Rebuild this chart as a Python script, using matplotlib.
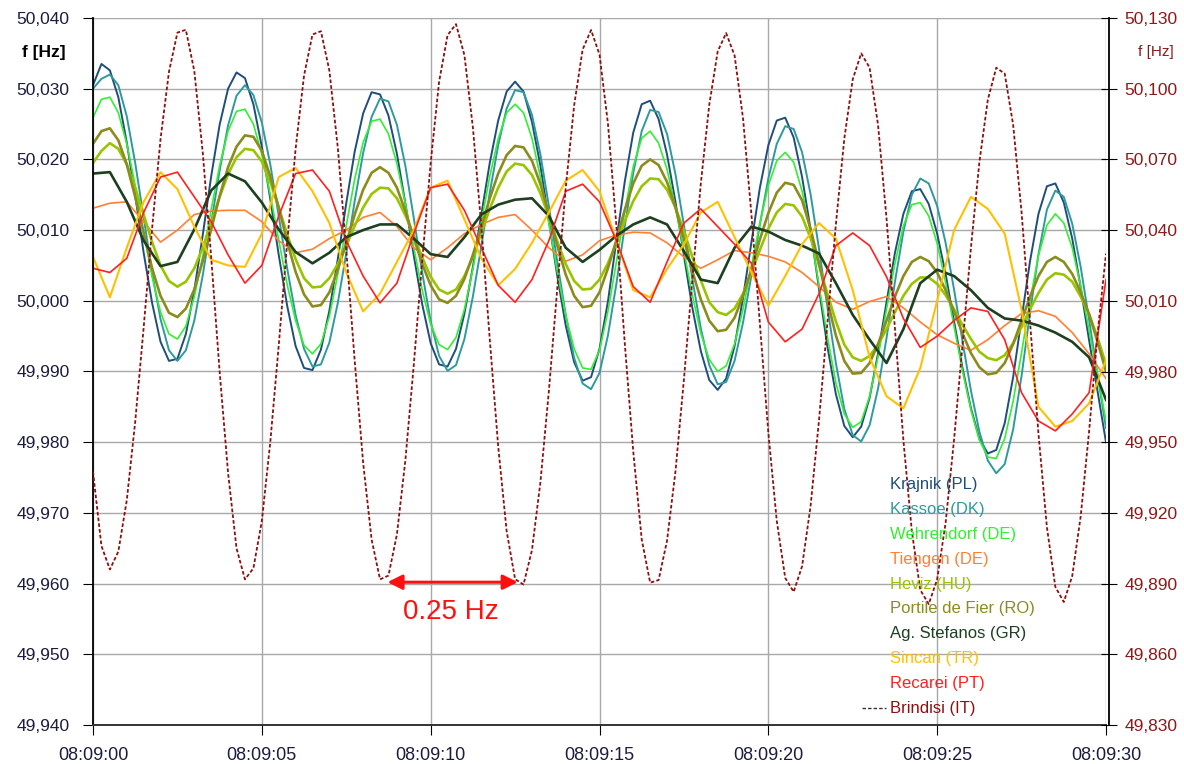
import numpy as np
import matplotlib
matplotlib.use('Agg')
import matplotlib.pyplot as plt
from matplotlib.lines import Line2D

plt.rcParams['font.family'] = ['Liberation Sans', 'DejaVu Sans']

# sample times in seconds after 08:09:00
t_half = np.linspace(0, 30, 61)      # every 0.5 s
t_quarter = np.linspace(0, 30, 121)  # every 0.25 s (large swings)

# frequencies in Hz, left axis; every 0.25 s
krajnik = [50.0305, 50.0335, 50.0326, 50.0288, 50.0224, 50.0149, 50.0068, 49.9997, 49.9942, 49.9915,
           49.9918, 49.9953, 50.0015, 50.0093, 50.0176, 50.0249, 50.0300, 50.0323, 50.0315, 50.0278,
           50.0218, 50.0144, 50.0065, 49.9993, 49.9936, 49.9905, 49.9902, 49.9931, 49.9986, 50.0059,
           50.0138, 50.0211, 50.0265, 50.0295, 50.0292, 50.0262, 50.0208, 50.0138, 50.0064, 49.9995,
           49.9940, 49.9910, 49.9907, 49.9932, 49.9982, 50.0048, 50.0122, 50.0195, 50.0255, 50.0296,
           50.0310, 50.0296, 50.0253, 50.0191, 50.0113, 50.0035, 49.9965, 49.9913, 49.9887, 49.9892,
           49.9932, 49.9999, 50.0085, 50.0169, 50.0238, 50.0278, 50.0283, 50.0257, 50.0207, 50.0140,
           50.0064, 49.9990, 49.9929, 49.9888, 49.9874, 49.9890, 49.9936, 50.0004, 50.0083, 50.0160,
           50.0220, 50.0255, 50.0259, 50.0231, 50.0175, 50.0101, 50.0017, 49.9935, 49.9868, 49.9823,
           49.9807, 49.9822, 49.9863, 49.9926, 49.9998, 50.0068, 50.0123, 50.0155, 50.0158, 50.0137,
           50.0095, 50.0038, 49.9971, 49.9905, 49.9848, 49.9805, 49.9784, 49.9789, 49.9827, 49.9892,
           49.9975, 50.0056, 50.0123, 50.0162, 50.0166, 50.0139, 50.0088, 50.0019, 49.9944, 49.9872,
           49.9800]
kassoe = [50.0300, 50.0314, 50.0320, 50.0305, 50.0261, 50.0195, 50.0118, 50.0040, 49.9974, 49.9930,
          49.9915, 49.9930, 49.9972, 50.0036, 50.0110, 50.0184, 50.0248, 50.0290, 50.0305, 50.0291,
          50.0252, 50.0193, 50.0120, 50.0046, 49.9980, 49.9932, 49.9907, 49.9910, 49.9941, 49.9997,
          50.0067, 50.0141, 50.0209, 50.0260, 50.0286, 50.0282, 50.0249, 50.0191, 50.0117, 50.0040,
          49.9971, 49.9922, 49.9901, 49.9909, 49.9946, 50.0006, 50.0077, 50.0153, 50.0220, 50.0272,
          50.0298, 50.0295, 50.0263, 50.0207, 50.0134, 50.0055, 49.9980, 49.9919, 49.9883, 49.9875,
          49.9898, 49.9951, 50.0024, 50.0106, 50.0181, 50.0240, 50.0270, 50.0267, 50.0236, 50.0179,
          50.0107, 50.0031, 49.9961, 49.9909, 49.9882, 49.9885, 49.9915, 49.9969, 50.0036, 50.0108,
          50.0173, 50.0222, 50.0247, 50.0243, 50.0210, 50.0151, 50.0074, 49.9991, 49.9912, 49.9847,
          49.9810, 49.9801, 49.9824, 49.9876, 49.9947, 50.0027, 50.0098, 50.0150, 50.0173, 50.0166,
          50.0134, 50.0082, 50.0016, 49.9943, 49.9873, 49.9815, 49.9774, 49.9756, 49.9769, 49.9818,
          49.9894, 49.9983, 50.0066, 50.0129, 50.0156, 50.0147, 50.0109, 50.0048, 49.9973, 49.9895,
          49.9820]
wehrendorf = [50.0259, 50.0285, 50.0288, 50.0266, 50.0222, 50.0163, 50.0097, 50.0034, 49.9984, 49.9953,
              49.9946, 49.9964, 50.0006, 50.0063, 50.0129, 50.0191, 50.0240, 50.0268, 50.0271, 50.0250,
              50.0207, 50.0150, 50.0086, 50.0023, 49.9972, 49.9937, 49.9925, 49.9939, 49.9978, 50.0038,
              50.0106, 50.0172, 50.0224, 50.0254, 50.0257, 50.0236, 50.0194, 50.0138, 50.0075, 50.0015,
              49.9967, 49.9938, 49.9931, 49.9948, 49.9988, 50.0045, 50.0111, 50.0176, 50.0229, 50.0266,
              50.0278, 50.0266, 50.0230, 50.0175, 50.0110, 50.0041, 49.9979, 49.9932, 49.9905, 49.9903,
              49.9930, 49.9985, 50.0055, 50.0127, 50.0190, 50.0230, 50.0240, 50.0223, 50.0186, 50.0132,
              50.0070, 50.0008, 49.9954, 49.9917, 49.9900, 49.9908, 49.9939, 49.9988, 50.0049, 50.0110,
              50.0163, 50.0198, 50.0210, 50.0196, 50.0155, 50.0096, 50.0022, 49.9949, 49.9884, 49.9840,
              49.9821, 49.9829, 49.9865, 49.9921, 49.9988, 50.0053, 50.0106, 50.0136, 50.0139, 50.0120,
              50.0081, 50.0026, 49.9964, 49.9901, 49.9846, 49.9803, 49.9779, 49.9777, 49.9805, 49.9858,
              49.9927, 50.0000, 50.0064, 50.0107, 50.0123, 50.0110, 50.0075, 50.0021, 49.9958, 49.9895,
              49.9830]
heviz = [50.0195, 50.0212, 50.0223, 50.0215, 50.0193, 50.0160, 50.0122, 50.0083, 50.0050, 50.0028,
         50.0020, 50.0027, 50.0046, 50.0075, 50.0111, 50.0147, 50.0179, 50.0203, 50.0215, 50.0213,
         50.0197, 50.0168, 50.0132, 50.0094, 50.0059, 50.0032, 50.0019, 50.0020, 50.0032, 50.0052,
         50.0078, 50.0106, 50.0132, 50.0151, 50.0160, 50.0159, 50.0145, 50.0121, 50.0092, 50.0061,
         50.0034, 50.0016, 50.0010, 50.0016, 50.0035, 50.0062, 50.0096, 50.0130, 50.0160, 50.0183,
         50.0194, 50.0192, 50.0178, 50.0152, 50.0119, 50.0084, 50.0052, 50.0028, 50.0016, 50.0017,
         50.0030, 50.0053, 50.0082, 50.0113, 50.0141, 50.0162, 50.0173, 50.0172, 50.0157, 50.0132,
         50.0099, 50.0062, 50.0029, 49.9998, 49.9984, 49.9980, 49.9989, 50.0010, 50.0040, 50.0072,
         50.0102, 50.0125, 50.0137, 50.0135, 50.0119, 50.0089, 50.0051, 50.0010, 49.9971, 49.9938,
         49.9920, 49.9915, 49.9922, 49.9938, 49.9960, 49.9984, 50.0007, 50.0024, 50.0033, 50.0033,
         50.0024, 50.0008, 49.9988, 49.9966, 49.9946, 49.9928, 49.9919, 49.9916, 49.9923, 49.9940,
         49.9963, 49.9988, 50.0011, 50.0030, 50.0039, 50.0037, 50.0027, 50.0006, 49.9981, 49.9948,
         49.9910]
portile = [50.0222, 50.0240, 50.0244, 50.0227, 50.0193, 50.0147, 50.0096, 50.0046, 50.0007, 49.9983,
           49.9977, 49.9989, 50.0016, 50.0056, 50.0101, 50.0148, 50.0189, 50.0218, 50.0234, 50.0232,
           50.0212, 50.0176, 50.0132, 50.0084, 50.0041, 50.0009, 49.9992, 49.9994, 50.0012, 50.0044,
           50.0082, 50.0122, 50.0157, 50.0181, 50.0189, 50.0181, 50.0160, 50.0127, 50.0089, 50.0052,
           50.0022, 50.0002, 49.9997, 50.0007, 50.0031, 50.0065, 50.0104, 50.0145, 50.0180, 50.0206,
           50.0219, 50.0217, 50.0198, 50.0165, 50.0123, 50.0078, 50.0037, 50.0007, 49.9991, 49.9993,
           50.0012, 50.0046, 50.0086, 50.0129, 50.0166, 50.0191, 50.0200, 50.0192, 50.0168, 50.0132,
           50.0087, 50.0042, 50.0002, 49.9972, 49.9957, 49.9959, 49.9976, 50.0007, 50.0045, 50.0087,
           50.0124, 50.0153, 50.0167, 50.0164, 50.0142, 50.0102, 50.0053, 50.0000, 49.9951, 49.9915,
           49.9897, 49.9898, 49.9912, 49.9939, 49.9972, 50.0006, 50.0035, 50.0055, 50.0062, 50.0056,
           50.0040, 50.0015, 49.9985, 49.9954, 49.9926, 49.9906, 49.9896, 49.9898, 49.9912, 49.9939,
           49.9972, 50.0006, 50.0035, 50.0055, 50.0062, 50.0055, 50.0038, 50.0012, 49.9981, 49.9942,
           49.9900]

# every 0.5 s
tiengen = [50.0131, 50.0138, 50.0140, 50.0112, 50.0083, 50.0100, 50.0122, 50.0127, 50.0128, 50.0128,
           50.0112, 50.0085, 50.0068, 50.0073, 50.0088, 50.0100, 50.0118, 50.0125, 50.0105, 50.0075,
           50.0058, 50.0075, 50.0095, 50.0108, 50.0118, 50.0122, 50.0100, 50.0075, 50.0056, 50.0065,
           50.0085, 50.0093, 50.0097, 50.0096, 50.0082, 50.0062, 50.0046, 50.0058, 50.0071, 50.0068,
           50.0063, 50.0055, 50.0040, 50.0020, 49.9998, 49.9988, 49.9999, 50.0006, 49.9990, 49.9970,
           49.9952, 49.9940, 49.9930, 49.9945, 49.9965, 49.9982, 49.9986, 49.9978, 49.9955, 49.9925,
           49.9890]
stefanos = [50.0180, 50.0182, 50.0140, 50.0085, 50.0049, 50.0055, 50.0101, 50.0156, 50.0180, 50.0169,
            50.0139, 50.0101, 50.0069, 50.0053, 50.0068, 50.0090, 50.0100, 50.0108, 50.0108, 50.0088,
            50.0066, 50.0062, 50.0090, 50.0122, 50.0136, 50.0143, 50.0145, 50.0120, 50.0075, 50.0055,
            50.0072, 50.0092, 50.0108, 50.0118, 50.0108, 50.0070, 50.0030, 50.0025, 50.0075, 50.0105,
            50.0098, 50.0086, 50.0078, 50.0067, 50.0025, 49.9980, 49.9945, 49.9912, 49.9960, 50.0025,
            50.0044, 50.0035, 50.0015, 49.9990, 49.9975, 49.9972, 49.9965, 49.9955, 49.9942, 49.9920,
            49.9860]
sincan = [50.0062, 50.0005, 50.0075, 50.0140, 50.0182, 50.0158, 50.0105, 50.0058, 50.0050, 50.0048,
          50.0095, 50.0175, 50.0188, 50.0155, 50.0110, 50.0040, 49.9985, 50.0010, 50.0055, 50.0100,
          50.0160, 50.0170, 50.0115, 50.0060, 50.0022, 50.0045, 50.0082, 50.0125, 50.0170, 50.0185,
          50.0155, 50.0085, 50.0015, 50.0005, 50.0045, 50.0080, 50.0125, 50.0140, 50.0090, 50.0040,
          49.9993, 50.0035, 50.0080, 50.0110, 50.0088, 50.0015, 49.9920, 49.9865, 49.9848, 49.9905,
          50.0000, 50.0100, 50.0147, 50.0130, 50.0095, 49.9987, 49.9850, 49.9822, 49.9830, 49.9855,
          49.9916]
recarei = [50.0046, 50.0040, 50.0060, 50.0125, 50.0175, 50.0182, 50.0147, 50.0112, 50.0065, 50.0025,
           50.0050, 50.0120, 50.0180, 50.0185, 50.0155, 50.0085, 50.0035, 49.9997, 50.0025, 50.0095,
           50.0160, 50.0165, 50.0128, 50.0075, 50.0022, 49.9998, 50.0030, 50.0085, 50.0155, 50.0165,
           50.0140, 50.0085, 50.0020, 49.9998, 50.0055, 50.0110, 50.0130, 50.0105, 50.0080, 50.0053,
           49.9970, 49.9942, 49.9960, 50.0010, 50.0078, 50.0096, 50.0078, 50.0034, 49.9975, 49.9934,
           49.9950, 49.9972, 49.9990, 49.9985, 49.9945, 49.9870, 49.9830, 49.9816, 49.9840, 49.9870,
           50.0030]

# Brindisi, right axis, every 0.25 s
brindisi = [49.9375, 49.9060, 49.8960, 49.9036, 49.9253, 49.9587, 49.9986, 50.0406, 50.0786, 50.1072,
            50.1238, 50.1250, 50.1075, 50.0730, 50.0285, 49.9800, 49.9370, 49.9050, 49.8918, 49.8965,
            49.9166, 49.9500, 49.9910, 50.0346, 50.0745, 50.1056, 50.1230, 50.1244, 50.1077, 50.0750,
            50.0316, 49.9846, 49.9413, 49.9088, 49.8918, 49.8934, 49.9108, 49.9422, 49.9828, 50.0270,
            50.0685, 50.1030, 50.1227, 50.1274, 50.1142, 50.0836, 50.0416, 49.9937, 49.9482, 49.9123,
            49.8919, 49.8896, 49.9042, 49.9330, 49.9716, 50.0154, 50.0580, 50.0930, 50.1166, 50.1249,
            50.1145, 50.0852, 50.0418, 49.9917, 49.9460, 49.9088, 49.8904, 49.8915, 49.9082, 49.9376,
            49.9766, 50.0191, 50.0597, 50.0931, 50.1158, 50.1236, 50.1141, 50.0875, 50.0465, 50.0002,
            49.9540, 49.9166, 49.8924, 49.8865, 49.8974, 49.9228, 49.9592, 50.0007, 50.0424, 50.0788,
            50.1040, 50.1150, 50.1089, 50.0845, 50.0450, 49.9981, 49.9508, 49.9122, 49.8873, 49.8813,
            49.8918, 49.9158, 49.9511, 49.9912, 50.0326, 50.0688, 50.0953, 50.1089, 50.1064, 50.0847,
            50.0475, 50.0010, 49.9536, 49.9139, 49.8886, 49.8822, 49.8932, 49.9185, 49.9547, 49.9960,
            50.0300]

names = ['Krajnik (PL)', 'Kassoe (DK)', 'Wehrendorf (DE)', 'Tiengen (DE)', 'Heviz (HU)',
         'Portile de Fier (RO)', 'Ag. Stefanos (GR)', 'Sincan (TR)', 'Recarei (PT)']
series = [krajnik, kassoe, wehrendorf, tiengen, heviz, portile, stefanos, sincan, recarei]
times = [t_quarter, t_quarter, t_quarter, t_half, t_quarter, t_quarter, t_half, t_half, t_half]
colors = ['#1f4e79', '#2e9a9e', '#33ee33', '#ff8033', '#99c400', '#8c8c1e', '#1c4020', '#ffc000', '#ff2020']
widths = [1.4, 1.4, 1.2, 1.2, 1.9, 1.9, 1.9, 1.5, 1.2]
brindisi_color = '#8b1010'

x_ticks = [0, 5, 10, 15, 20, 25, 30]
x_labels = ['08:09:00', '08:09:05', '08:09:10', '08:09:15', '08:09:20', '08:09:25', '08:09:30']
left_ticks = [49.940, 49.950, 49.960, 49.970, 49.980, 49.990, 50.000, 50.010, 50.020, 50.030, 50.040]
left_labels = ['49,940', '49,950', '49,960', '49,970', '49,980', '49,990',
               '50,000', '50,010', '50,020', '50,030', '50,040']
right_ticks = [49.830, 49.860, 49.890, 49.920, 49.950, 49.980, 50.010, 50.040, 50.070, 50.100, 50.130]
right_labels = ['49,830', '49,860', '49,890', '49,920', '49,950', '49,980',
                '50,010', '50,040', '50,070', '50,100', '50,130']

fig, ax = plt.subplots(figsize=(11.84, 7.64), dpi=100)
fig.subplots_adjust(left=93/1184, right=1106/1184, bottom=1-725/764, top=1-18/764)

for tt, vals, col, lw in zip(times, series, colors, widths):
    ax.plot(tt, vals, color=col, lw=lw)

ax.set_xlim(0, 30)
ax.set_ylim(49.940, 50.040)
ax.set_xticks(x_ticks)
ax.set_xticklabels(x_labels)
ax.set_yticks(left_ticks)
ax.set_yticklabels(left_labels)
ax.grid(True, color='#a8a8a8', lw=1.0)
ax.set_axisbelow(True)
ax.tick_params(axis='y', direction='out', length=7, labelsize=12.5, labelcolor='#1c1c40', pad=10)
ax.tick_params(axis='x', direction='out', length=7, labelsize=13, labelcolor='#1c1c40', pad=9)
for s in ['top', 'right']:
    ax.spines[s].set_visible(False)
ax.spines['left'].set_color('black')
ax.spines['left'].set_linewidth(1.3)
ax.spines['bottom'].set_color('#333333')
ax.spines['bottom'].set_linewidth(1.4)

# 0.25 Hz marker between two Brindisi minima
ax.annotate('', xy=(8.72, 49.9602), xytext=(12.58, 49.9602),
            arrowprops=dict(arrowstyle='<|-|>', color='#ff1010', lw=2.2, mutation_scale=22,
                            shrinkA=0, shrinkB=0))
ax.text(10.6, 49.9560, '0.25 Hz', color='#ff1010', fontsize=20, ha='center', va='center')

ax2 = ax.twinx()
ax2.plot(t_quarter, brindisi, color=brindisi_color, lw=1.3, ls=(0, (2, 1.2)))
ax2.set_ylim(49.830, 50.130)
ax2.set_yticks(right_ticks)
ax2.set_yticklabels(right_labels)
ax2.tick_params(axis='y', direction='inout', length=11, labelsize=12.5, labelcolor='#8b1a1a', pad=6)
for s in ['top', 'left', 'bottom']:
    ax2.spines[s].set_visible(False)
ax2.spines['right'].set_position(('outward', 2))
ax2.spines['right'].set_linewidth(1.3)

# legend as coloured text
for i, (name, col) in enumerate(zip(names + ['Brindisi (IT)'], colors + [brindisi_color])):
    y_px = 485 + i * 24.8
    ax2.text((890 - 93) / 1013, (725 - y_px) / 707, name, color=col, fontsize=12,
             ha='left', va='center', transform=ax2.transAxes)
ax2.add_line(Line2D([(862 - 93) / 1013, (886 - 93) / 1013], [(725 - 708) / 707] * 2,
                    transform=ax2.transAxes, color='#333333', lw=1.0, ls=(0, (2.5, 1.5))))

fig.text(44/1184, 1-53/764, 'f [Hz]', fontweight='bold', fontsize=12.5, ha='center', va='center')
fig.text(1156/1184, 1-52/764, 'f [Hz]', color='#8b1a1a', fontsize=11, ha='center', va='center')

fig.savefig('out.png', dpi=100)
